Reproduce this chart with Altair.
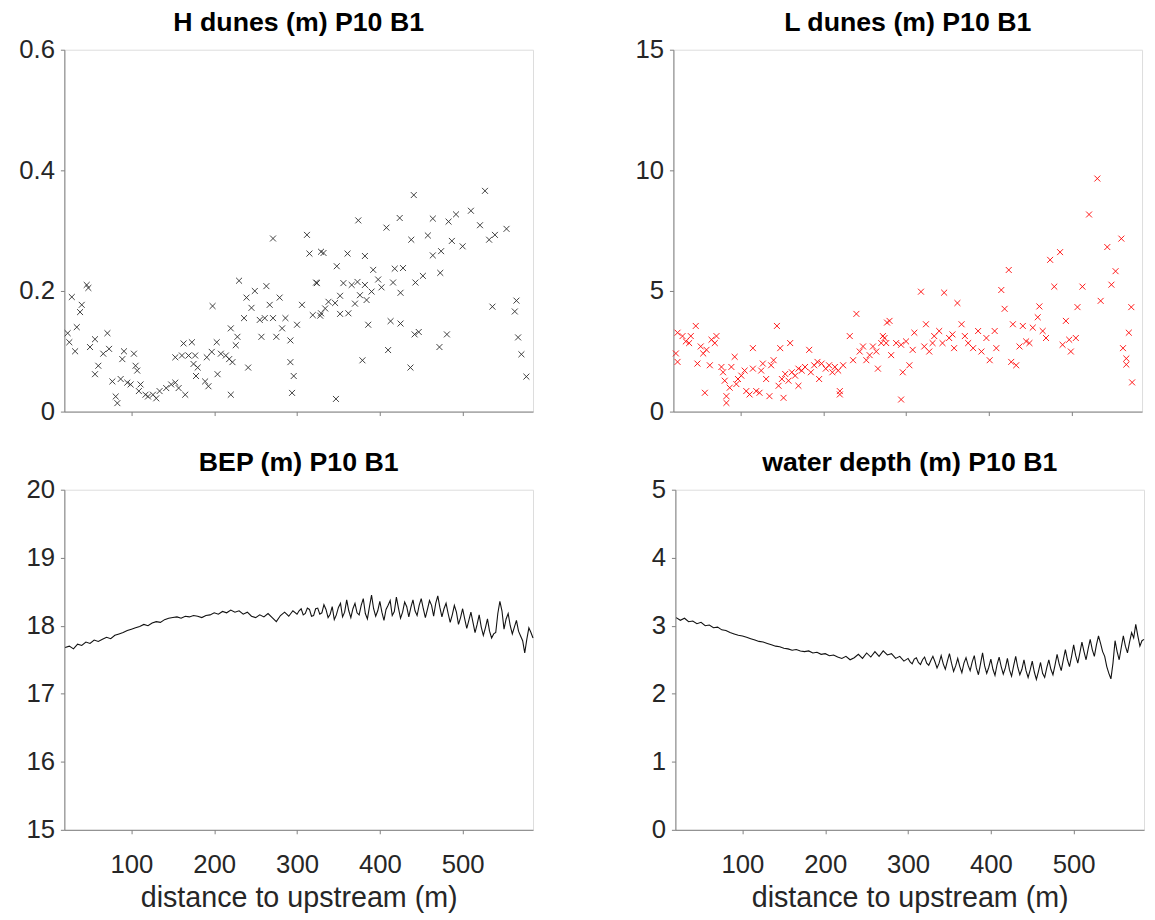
import altair as alt
import pandas as pd

# ---------------- data ----------------
# H dunes (m): distance (m) / height (m)
h_dist = [23, 25, 28, 32, 34, 38, 40, 46, 48, 50, 56, 56, 60, 66, 71, 73, 77, 81, 83, 87,
          89, 91, 95, 99, 103, 105, 107, 109, 111, 117, 120, 126, 130, 134, 142, 148, 153, 153, 157, 161,
          163, 165, 169, 173, 175, 177, 178, 180, 189, 191, 193, 197, 198, 203, 204, 208, 214, 218, 220, 220,
          222, 226, 228, 230, 236, 239, 241, 245, 249, 255, 257, 261, 263, 267, 271, 271, 275, 279, 282, 286,
          292, 292, 294, 296, 300, 306, 312, 315, 319, 323, 329, 329,
          324, 328, 332, 334, 338, 346, 347, 348, 352, 352, 356, 361, 362, 366, 370, 373, 374, 376, 379, 382,
          382, 384, 386, 390, 392, 398, 402, 408, 410, 413, 416, 418, 424, 425, 425, 428, 437, 438, 441, 442,
          443, 447, 452, 458, 464, 464, 472, 473, 474, 481, 483, 487, 492, 500, 510, 521, 527, 532, 536, 539,
          553, 563, 565, 567, 571, 577]
h_val = [0.130, 0.115, 0.190, 0.100, 0.140, 0.165, 0.177, 0.210, 0.205, 0.107, 0.120, 0.062, 0.076, 0.096, 0.130, 0.104, 0.050, 0.025, 0.014, 0.054,
         0.087, 0.100, 0.048, 0.045, 0.096, 0.076, 0.068, 0.034, 0.045, 0.028, 0.025, 0.028, 0.022, 0.034, 0.039, 0.045, 0.048, 0.090, 0.039, 0.093,
         0.113, 0.028, 0.093, 0.115, 0.079, 0.093, 0.059, 0.073, 0.050, 0.090, 0.042, 0.099, 0.175, 0.115, 0.062, 0.096, 0.093, 0.087, 0.138, 0.028,
         0.082, 0.110, 0.124, 0.217, 0.155, 0.189, 0.073, 0.172, 0.200, 0.152, 0.124, 0.155, 0.208, 0.177, 0.287, 0.155, 0.124, 0.189, 0.138, 0.155,
         0.118, 0.082, 0.031, 0.059, 0.144, 0.177, 0.293, 0.262, 0.160, 0.214, 0.265, 0.163,
         0.213, 0.159, 0.263, 0.171, 0.182, 0.180, 0.021, 0.241, 0.192, 0.162, 0.213, 0.262, 0.163, 0.210, 0.179, 0.215, 0.317, 0.193, 0.085, 0.210,
         0.258, 0.185, 0.144, 0.199, 0.235, 0.219, 0.206, 0.305, 0.102, 0.150, 0.214, 0.237, 0.321, 0.197, 0.146, 0.238, 0.073, 0.285, 0.359, 0.128,
         0.214, 0.132, 0.225, 0.292, 0.320, 0.259, 0.107, 0.230, 0.266, 0.128, 0.315, 0.283, 0.327, 0.274, 0.333, 0.309, 0.366, 0.285, 0.174, 0.293,
         0.303, 0.166, 0.184, 0.123, 0.095, 0.058]

# L dunes (m): distance (m) / length (m)
l_dist = [24, 22, 24, 30, 34, 38, 40, 46, 48, 52, 55, 59, 57, 63, 65, 69, 71, 77, 79, 81,
          83, 83, 87, 89, 93, 95, 97, 101, 105, 107, 111, 115, 115, 119, 123, 125, 127, 131, 135, 137,
          140, 144, 146, 148, 150, 154, 152, 158, 160, 162, 166, 170, 170, 174, 178, 183, 185, 189, 193, 195,
          198, 203, 207, 211, 214, 218, 220, 220, 224, 232, 236, 240, 244, 248, 252, 256, 260, 264, 266, 270,
          274, 277, 272, 280, 276, 288, 294, 300, 282, 296, 304, 294, 310, 308, 318, 324, 322, 328, 332, 334,
          340, 346, 344, 352, 356, 358, 362, 367, 371, 375, 381, 387, 391, 397, 401, 407, 409, 415, 419, 424,
          429, 427, 433, 437, 441, 445, 449, 453, 459, 461, 465, 469, 474, 479, 486, 489, 493, 497, 499, 505,
          507, 513, 521, 531, 535, 543, 548, 553, 560, 562, 566, 566, 569, 572, 573]
l_val = [3.27, 2.41, 2.06, 3.13, 2.91, 2.84, 3.13, 3.55, 1.99, 2.70, 2.41, 2.56, 0.78, 1.92, 2.98, 2.84, 3.13, 1.85, 1.63, 1.28,
         0.64, 0.36, 0.99, 1.85, 2.27, 1.14, 1.35, 1.49, 1.70, 0.85, 0.71, 2.63, 1.78, 0.85, 0.78, 1.70, 1.99, 1.35, 0.64, 1.92,
         2.13, 3.55, 1.07, 2.63, 1.35, 1.56, 0.57, 1.28, 2.84, 1.63, 1.49, 1.78, 1.07, 1.70, 1.85, 2.56, 1.63, 1.92, 2.06, 1.35,
         1.99, 1.78, 1.92, 1.63, 1.85, 1.70, 0.85, 0.71, 1.92, 3.13, 2.13, 4.05, 2.49, 2.70, 2.13, 2.34, 2.70, 2.49, 1.78, 2.84,
         3.05, 3.69, 3.13, 3.76, 2.84, 2.84, 2.77, 2.91, 2.34, 1.63, 1.92, 0.50, 3.27, 2.56, 4.97, 3.62, 2.70, 2.49, 2.84, 3.13,
         3.34, 4.93, 2.84, 3.05, 3.20, 2.63, 4.50, 3.62, 3.13, 2.84, 2.63, 3.34, 2.49, 3.05, 2.13, 3.34, 2.63, 5.04, 4.26, 5.87,
         3.62, 2.06, 1.92, 2.70, 3.55, 2.91, 2.84, 3.48, 3.91, 4.36, 3.34, 3.05, 6.29, 5.18, 6.61, 2.77, 3.76, 2.98, 2.49, 3.05,
         4.33, 5.18, 8.17, 9.66, 4.59, 6.82, 5.26, 5.82, 7.17, 2.63, 2.20, 1.95, 3.27, 4.33, 1.21]

# profiles sampled along the reach (m): 5 m steps upstream, 2.5 m steps from 300 m
prof_dist = [20, 25, 30, 35, 40, 45, 50, 55, 60, 65, 70, 75, 80, 85, 90, 95, 100, 105, 110, 115,
             120, 125, 130, 135, 140, 145, 150, 155, 160, 165, 170, 175, 180, 185, 190, 195, 200, 205, 210, 215,
             220, 225, 230, 235, 240, 245, 250, 255, 260, 265, 270, 275, 280, 285, 290, 295,
             300, 302.5, 305, 307.5, 310, 312.5, 315, 317.5, 320, 322.5,
             325, 327.5, 330, 332.5, 335, 337.5, 340, 342.5, 345, 347.5,
             350, 352.5, 355, 357.5, 360, 362.5, 365, 367.5, 370, 372.5,
             375, 377.5, 380, 382.5, 385, 387.5, 390, 392.5, 395, 397.5,
             400, 402.5, 405, 407.5, 410, 412.5, 415, 417.5, 420, 422.5,
             425, 427.5, 430, 432.5, 435, 437.5, 440, 442.5, 445, 447.5,
             450, 452.5, 455, 457.5, 460, 462.5, 465, 467.5, 470, 472.5,
             475, 477.5, 480, 482.5, 485, 487.5, 490, 492.5, 495, 497.5,
             500, 502.5, 505, 507.5, 510, 512.5, 515, 517.5, 520, 522.5,
             525, 527.5, 530, 532.5, 535, 537.5, 540, 542.5, 545, 547.5,
             550, 552.5, 555, 557.5, 560, 562.5, 565, 567.5, 570, 572.5,
             575, 577.5, 580, 582.5, 585]
bep = [17.68, 17.70, 17.66, 17.73, 17.71, 17.76, 17.74, 17.79, 17.77, 17.80,
       17.83, 17.81, 17.86, 17.88, 17.90, 17.93, 17.95, 17.97, 17.99, 18.02,
       18.00, 18.04, 18.06, 18.05, 18.09, 18.11, 18.12, 18.13, 18.11, 18.14,
       18.13, 18.15, 18.14, 18.12, 18.15, 18.16, 18.19, 18.17, 18.21, 18.19,
       18.23, 18.20, 18.22, 18.17, 18.20, 18.14, 18.12, 18.16, 18.13, 18.18,
       18.12, 18.06, 18.15, 18.20, 18.14, 18.22,
       18.17, 18.22, 18.25, 18.16, 18.18, 18.26, 18.24, 18.14, 18.15, 18.25,
       18.26, 18.17, 18.19, 18.31, 18.24, 18.12, 18.17, 18.28, 18.09, 18.16,
       18.27, 18.33, 18.13, 18.20, 18.38, 18.22, 18.12, 18.25, 18.33, 18.19,
       18.16, 18.30, 18.40, 18.18, 18.10, 18.28, 18.45, 18.25, 18.14, 18.22,
       18.36, 18.20, 18.08, 18.24, 18.30, 18.37, 18.15, 18.21, 18.42, 18.26,
       18.11, 18.20, 18.35, 18.28, 18.13, 18.27, 18.38, 18.22, 18.15, 18.30,
       18.40, 18.25, 18.12, 18.24, 18.37, 18.30, 18.14, 18.33, 18.44, 18.27,
       18.13, 18.25, 18.33, 18.18, 18.05, 18.16, 18.30, 18.20, 18.02, 18.12,
       18.25, 18.10, 17.96, 18.08, 18.20, 18.05, 17.90, 18.02, 18.16, 17.98,
       17.86, 17.97, 18.10, 17.92, 17.82, 17.88, 17.90, 18.18, 18.36, 18.22,
       17.95, 18.10, 18.18, 18.00, 17.88, 17.98, 18.08, 17.92, 17.85, 17.78,
       17.60, 17.80, 17.97, 17.90, 17.82]
depth = [3.12, 3.08, 3.11, 3.06, 3.07, 3.03, 3.05, 3.00, 3.01, 2.97,
         2.98, 2.94, 2.93, 2.90, 2.88, 2.86, 2.85, 2.83, 2.81, 2.79,
         2.77, 2.76, 2.74, 2.72, 2.70, 2.69, 2.67, 2.66, 2.64, 2.65,
         2.63, 2.62, 2.63, 2.60, 2.61, 2.58, 2.59, 2.56, 2.57, 2.54,
         2.52, 2.55, 2.50, 2.53, 2.58, 2.52, 2.60, 2.54, 2.62, 2.55,
         2.63, 2.57, 2.59, 2.52, 2.55, 2.48,
         2.52, 2.47, 2.44, 2.51, 2.53, 2.46, 2.43, 2.50, 2.54, 2.45,
         2.42, 2.49, 2.55, 2.47, 2.38, 2.45, 2.56, 2.44, 2.36, 2.48,
         2.59, 2.45, 2.33, 2.41, 2.52, 2.40, 2.31, 2.45, 2.53, 2.42,
         2.34, 2.47, 2.56, 2.38, 2.28, 2.44, 2.60, 2.41, 2.30, 2.39,
         2.51, 2.36, 2.27, 2.43, 2.54, 2.40, 2.29, 2.38, 2.52, 2.35,
         2.26, 2.41, 2.55, 2.39, 2.28, 2.36, 2.50, 2.34, 2.24, 2.35,
         2.48, 2.32, 2.21, 2.33, 2.46, 2.30, 2.24, 2.38, 2.50, 2.36,
         2.28, 2.42, 2.58, 2.44, 2.34, 2.50, 2.65, 2.50, 2.40, 2.55,
         2.72, 2.56, 2.45, 2.60, 2.76, 2.62, 2.50, 2.66, 2.80, 2.65,
         2.55, 2.72, 2.85, 2.74, 2.62, 2.55, 2.40, 2.30, 2.22, 2.45,
         2.78, 2.62, 2.50, 2.68, 2.85, 2.70, 2.60, 2.76, 2.90, 2.82,
         3.02, 2.85, 2.70, 2.78, 2.80]

x_ticks = [100, 200, 300, 400, 500]
x_domain = [19, 585]
titles = ["H dunes (m) P10 B1", "L dunes (m) P10 B1", "BEP (m) P10 B1", "water depth (m) P10 B1"]
x_title = "distance to upstream (m)"

# ---------------- styling ----------------
FONT = "Liberation Sans"
TXT = "#262626"
LINE = "#808080"
W = 474
H_TOP = 366
H_BOT = 344
LBL = 26
XMARK = "M-1,-1L1,1M-1,1L1,-1"


def x_enc(show_labels):
    if show_labels:
        ax = alt.Axis(values=x_ticks, grid=False, tickSize=4, tickColor=LINE, domainColor=LINE,
                      labelFont=FONT, labelFontSize=LBL, labelColor=TXT, labelPadding=18,
                      title=x_title, titleFont=FONT, titleFontSize=29, titleFontWeight="normal",
                      titleColor=TXT, titlePadding=7)
    else:
        ax = alt.Axis(values=x_ticks, grid=False, tickSize=4, tickColor=LINE, domainColor=LINE,
                      labels=False, title=None, minExtent=8, maxExtent=8)
    return alt.X("d:Q", scale=alt.Scale(domain=x_domain, nice=False, zero=False), axis=ax)


def y_enc(field, domain, values, fmt):
    return alt.Y(field, scale=alt.Scale(domain=domain, nice=False, zero=False),
                 axis=alt.Axis(values=values, format=fmt, grid=False, tickSize=4, tickColor=LINE,
                               domainColor=LINE, labelFont=FONT, labelFontSize=LBL, labelColor=TXT,
                               labelPadding=6, title=None, minExtent=56, maxExtent=56))


def ttl(t):
    return alt.TitleParams(t, font=FONT, fontSize=27, fontWeight="bold", color="black",
                           anchor="middle", offset=0)


h_df = pd.DataFrame({"d": h_dist, "v": h_val})
l_df = pd.DataFrame({"d": l_dist, "v": l_val})
p_df = pd.DataFrame({"d": prof_dist, "bep": bep, "depth": depth})

tl = alt.Chart(h_df).mark_point(shape=XMARK, size=36, filled=False, color="#2a2a2a",
                                 strokeWidth=0.9, opacity=1).encode(
    x=x_enc(False), y=y_enc("v:Q", [0, 0.6], [0, 0.2, 0.4, 0.6], "~g")
).properties(width=W, height=H_TOP, title=ttl(titles[0]))

tr = alt.Chart(l_df).mark_point(shape=XMARK, size=36, filled=False, color="#ff0000",
                                 strokeWidth=0.9, opacity=1).encode(
    x=x_enc(False), y=y_enc("v:Q", [0, 15], [0, 5, 10, 15], "d")
).properties(width=W, height=H_TOP, title=ttl(titles[1]))

bl = alt.Chart(p_df).mark_line(color="#111111", strokeWidth=1.1).encode(
    x=x_enc(True), y=y_enc("bep:Q", [15, 20], [15, 16, 17, 18, 19, 20], "d")
).properties(width=W, height=H_BOT, title=ttl(titles[2]))

br = alt.Chart(p_df).mark_line(color="#111111", strokeWidth=1.1).encode(
    x=x_enc(True), y=y_enc("depth:Q", [0, 5], [0, 1, 2, 3, 4, 5], "d")
).properties(width=W, height=H_BOT, title=ttl(titles[3]))

base = alt.vconcat(
    alt.hconcat(tl, tr, spacing=84),
    alt.hconcat(bl, br, spacing=84),
    spacing=23,
).configure_view(stroke=None).configure(background="white")

try:
    chart = base.properties(padding={"left": 0, "top": -5, "right": 0, "bottom": 0})
    chart.to_dict()
except Exception:
    chart = base.properties(padding={"left": 0, "top": 0, "right": 0, "bottom": 0})

chart.save("out.html", embed_options={"renderer": "svg", "actions": False})
